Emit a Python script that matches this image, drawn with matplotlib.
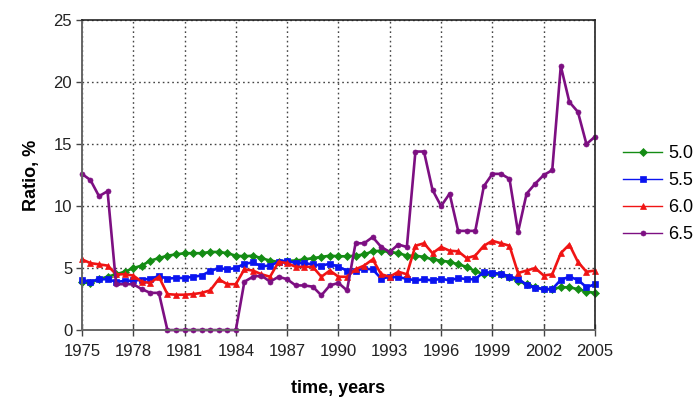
import numpy as np
import matplotlib
matplotlib.use("Agg")
import matplotlib.pyplot as plt

plt.rcParams['font.family'] = ['Liberation Sans', 'DejaVu Sans']

# Semi-annual observations, 1975.0 ... 2005.0
years = np.arange(1975.0, 2005.01, 0.5)

ratio_50 = [3.9, 3.8, 4.1, 4.3, 4.5, 4.7, 5.0, 5.2, 5.6, 5.8,
            6.0, 6.1, 6.2, 6.2, 6.2, 6.3, 6.3, 6.2, 6.0, 5.95,
            6.0, 5.8, 5.6, 5.5, 5.6, 5.6, 5.7, 5.8, 5.9, 6.0,
            5.95, 5.95, 6.0, 6.1, 6.35, 6.4, 6.3, 6.2, 6.0, 6.0,
            5.9, 5.7, 5.6, 5.5, 5.3, 5.1, 4.75, 4.5, 4.5, 4.5,
            4.3, 3.95, 3.7, 3.45, 3.3, 3.3, 3.45, 3.45, 3.3, 3.1,
            3.0]
ratio_55 = [4.05, 3.9, 4.1, 4.1, 3.9, 3.95, 4.0, 4.05, 4.15, 4.35,
            4.15, 4.2, 4.2, 4.3, 4.4, 4.75, 5.0, 4.9, 5.0, 5.35,
            5.45, 5.15, 5.2, 5.5, 5.6, 5.4, 5.4, 5.3, 5.2, 5.35,
            5.1, 4.8, 4.8, 4.95, 4.9, 4.15, 4.3, 4.25, 4.15, 4.0,
            4.1, 4.0, 4.15, 4.0, 4.2, 4.1, 4.1, 4.7, 4.6, 4.55,
            4.3, 4.15, 3.65, 3.4, 3.3, 3.3, 4.05, 4.3, 4.05, 3.45,
            3.7]
ratio_60 = [5.7, 5.4, 5.3, 5.2, 4.5, 4.5, 4.4, 3.9, 3.8, 4.3,
            2.9, 2.85, 2.85, 2.9, 3.0, 3.2, 4.1, 3.7, 3.7, 4.9,
            4.8, 4.5, 4.3, 5.5, 5.4, 5.1, 5.1, 5.1, 4.3, 4.8,
            4.3, 4.3, 4.9, 5.2, 5.7, 4.5, 4.3, 4.7, 4.5, 6.8,
            7.0, 6.2, 6.7, 6.4, 6.35, 5.8, 6.0, 6.8, 7.2, 7.0,
            6.8, 4.6, 4.8, 5.0, 4.4, 4.5, 6.2, 6.9, 5.5, 4.7,
            4.8]
ratio_65 = [12.6, 12.1, 10.8, 11.2, 3.7, 3.7, 3.7, 3.3, 3.0, 3.0,
            0.0, 0.0, 0.0, 0.0, 0.0, 0.0, 0.0, 0.0, 0.0, 3.9,
            4.3, 4.4, 3.9, 4.3, 4.1, 3.6, 3.6, 3.5, 2.8, 3.6,
            3.8, 3.2, 7.0, 7.0, 7.5, 6.7, 6.3, 6.9, 6.7, 14.4,
            14.4, 11.3, 10.0, 11.0, 8.0, 8.0, 8.0, 11.6, 12.6, 12.6,
            12.2, 7.9, 11.0, 11.8, 12.5, 12.9, 21.3, 18.4, 17.6, 15.0,
            15.6]

series_labels = ['5.0', '5.5', '6.0', '6.5']
series_values = [ratio_50, ratio_55, ratio_60, ratio_65]
colors = ['#148c14', '#0a14f0', '#f01414', '#7d0f82']
markers = ['D', 's', '^', 'o']
msizes = [4.2, 4.2, 4.8, 3.6]

x_ticks = list(range(1975, 2006, 3))
y_ticks = [0, 5, 10, 15, 20, 25]

fig = plt.figure(figsize=(7.0, 4.03), dpi=100)
ax = fig.add_axes([0.117, 0.181, 0.733, 0.769])

for vals, lab, c, m, ms in zip(series_values, series_labels, colors, markers, msizes):
    ax.plot(years, vals, color=c, marker=m, markersize=ms, linewidth=1.9,
            markeredgewidth=0.5, label=lab, clip_on=False)

ax.set_xlim(1975, 2005)
ax.set_ylim(0, 25)
ax.set_xticks(x_ticks)
ax.set_yticks(y_ticks)
ax.tick_params(axis='x', direction='inout', length=8, width=1, labelsize=12,
               pad=6, colors='#444444', labelcolor='#222222')
ax.tick_params(axis='y', direction='out', length=4, width=1, labelsize=12,
               pad=3, colors='#444444', labelcolor='#222222')
ax.grid(True, which='major', linestyle=(0, (1.2, 2.2)), color='#444444', linewidth=1.0)
ax.set_axisbelow(True)

for side in ['left', 'bottom']:
    ax.spines[side].set_color('#666666')
    ax.spines[side].set_linewidth(1.4)
for side in ['top', 'right']:
    ax.spines[side].set_color('#222222')
    ax.spines[side].set_linewidth(1.2)

ax.set_xlabel('time, years', fontsize=13, fontweight='bold', labelpad=15)
ax.set_ylabel('Ratio, %', fontsize=13, fontweight='bold', labelpad=10)

leg = ax.legend(loc='upper left', bbox_to_anchor=(1.04, 0.62), frameon=False,
                fontsize=13, handlelength=2.2, labelspacing=0.55, handletextpad=0.3,
                borderaxespad=0)
for h in leg.legend_handles:
    h.set_linewidth(1.0)

fig.savefig('out.png', dpi=100)
